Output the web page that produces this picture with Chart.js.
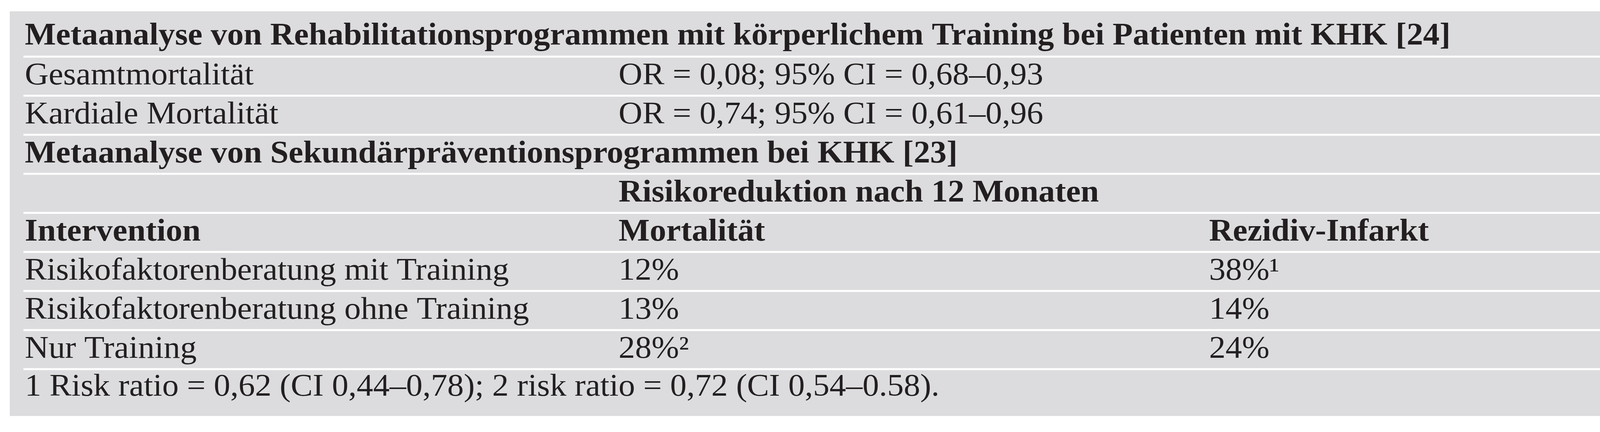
<!DOCTYPE html>
<html>
<head>
<meta charset="utf-8">
<script src="https://cdn.jsdelivr.net/npm/chart.js@4"></script>
<style>
  body { margin: 0; background: #fff; }
  #wrap { width: 4328px; height: 1106px; }
</style>
</head>
<body>
<div id="wrap"><canvas id="table"></canvas></div>
<script>
"use strict";

// table content, one entry per row
let firstCol = [
  "Metaanalyse von Rehabilitationsprogrammen mit körperlichem Training bei Patienten mit KHK [24]",
  "Gesamtmortalität",
  "Kardiale Mortalität",
  "Metaanalyse von Sekundärpräventionsprogrammen bei KHK [23]",
  "",
  "Intervention",
  "Risikofaktorenberatung mit Training",
  "Risikofaktorenberatung ohne Training",
  "Nur Training",
  "1 Risk ratio = 0,62 (CI 0,44–0,78); 2 risk ratio = 0,72 (CI 0,54–0.58)."
];
let secondCol = [
  "",
  "OR = 0,08; 95% CI = 0,68–0,93",
  "OR = 0,74; 95% CI = 0,61–0,96",
  "",
  "Risikoreduktion nach 12 Monaten",
  "Mortalität",
  "12%",
  "13%",
  "28%²",
  ""
];
let thirdCol = ["", "", "", "", "", "Rezidiv-Infarkt", "38%¹", "14%", "24%", ""];
let boldRows = [true, false, false, true, true, true, false, false, false, false];
// vertical centre of each row's text and the separator positions (row units)
let rowCentres = [0.64, 1.66, 2.66, 3.66, 4.66, 5.66, 6.66, 7.66, 8.66, 9.63];
let separators = [1.16, 2.16, 3.16, 4.16, 5.16, 6.16, 7.16, 8.16, 9.16];
let colStarts = [0.9, 36.5, 71.9];

const tablePlugin = {
  id: "tableDraw",
  beforeDraw(chart) {
    const ctx = chart.ctx;
    const a = chart.chartArea;
    const x = chart.scales.x;
    const y = chart.scales.y;
    ctx.save();
    ctx.fillStyle = "#dcdcde";
    ctx.fillRect(a.left, a.top, a.right - a.left, a.bottom - a.top);
    ctx.strokeStyle = "#ffffff";
    ctx.lineWidth = 5;
    separators.forEach(function(s) {
      const py = y.getPixelForValue(s);
      ctx.beginPath();
      ctx.moveTo(x.getPixelForValue(0.82), py);
      ctx.lineTo(x.getPixelForValue(99.3), py);
      ctx.stroke();
    });
    ctx.fillStyle = "#231f20";
    ctx.textBaseline = "middle";
    // squeeze text horizontally like the condensed original
    ctx.font = "bold 80px 'Liberation Serif'";
    const sx = 3650 / ctx.measureText(firstCol[0]).width;
    const cols = [firstCol, secondCol, thirdCol];
    for (let r = 0; r < firstCol.length; r++) {
      ctx.font = (boldRows[r] ? "bold " : "") + "80px 'Liberation Serif'";
      const py = y.getPixelForValue(rowCentres[r]);
      for (let c = 0; c < 3; c++) {
        const t = cols[c][r];
        if (!t) continue;
        ctx.save();
        ctx.translate(x.getPixelForValue(colStarts[c]), py);
        ctx.scale(sx, 1);
        ctx.fillText(t, 0, 0);
        ctx.restore();
      }
    }
    ctx.restore();
  }
};

new Chart(document.getElementById("table"), {
  type: "line",
  data: { labels: [], datasets: [{ data: [] }] },
  options: {
    responsive: true,
    maintainAspectRatio: false,
    animation: false,
    layout: { padding: { left: 25, top: 29, right: 33, bottom: 41 } },
    plugins: { legend: { display: false }, tooltip: { enabled: false } },
    scales: {
      x: { type: "linear", min: 0, max: 100, display: false },
      y: { type: "linear", min: 0, max: 10.36, reverse: true, display: false }
    }
  },
  plugins: [tablePlugin]
});
</script>
</body>
</html>
